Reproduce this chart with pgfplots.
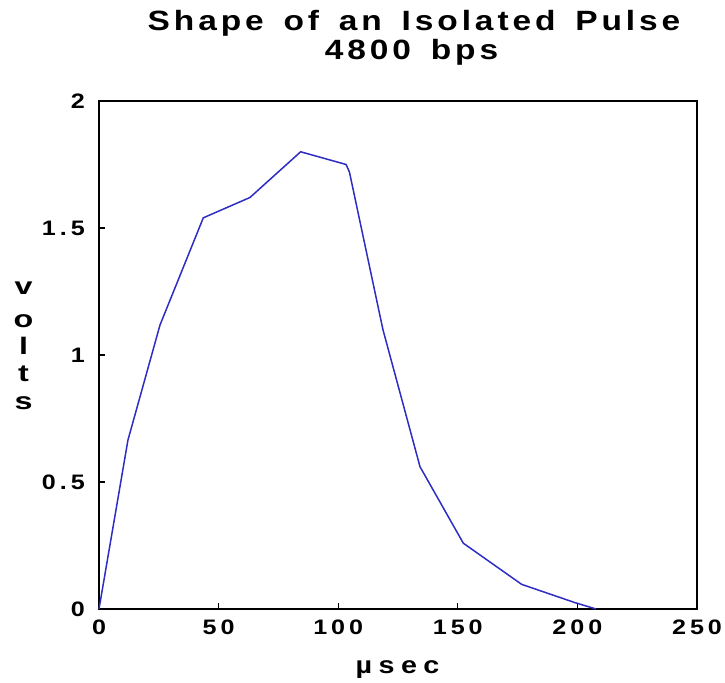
\documentclass[border=0pt]{standalone}
\usepackage{fontspec}
\setmainfont{Liberation Sans}
\newfontfamily\titlefont[FakeStretch=1.2, LetterSpace=14, WordSpace=1.5]{Liberation Sans}
\newfontfamily\widefont[FakeStretch=1.2, LetterSpace=19]{Liberation Sans}
\newfontfamily\labelfont[FakeStretch=1.2, LetterSpace=27]{Liberation Sans}
\newfontfamily\volfont[FakeStretch=1.35]{Liberation Sans}
\usepackage{pgfplots}
\pgfplotsset{compat=1.18}
\definecolor{pulse}{RGB}{45,45,195}
\begin{document}
\begin{tikzpicture}[x=1bp,y=1bp]
\useasboundingbox (-99,-74) rectangle (626,609);
\begin{axis}[
  at={(0,0)}, anchor=south west,
  scale only axis, width=598bp, height=508bp,
  xmin=0, xmax=250, ymin=0, ymax=2,
  xtick={0,50,100,150,200,250},
  ytick={0,0.5,1,1.5,2},
  yticklabels={0,0.5,1,1.5,2},
  tick pos=left, tick align=inside,
  major tick length=6bp,
  axis line style={line width=1.4bp},
  major tick style={line width=1.2bp, black},
  ticklabel style={font=\widefont\fontsize{21}{24}\selectfont\bfseries, inner sep=0pt},
  xticklabel style={anchor=north, yshift=-11bp},
  yticklabel style={anchor=east, xshift=-14bp},
  /pgf/number format/assume math mode=true,
  clip=false,
]
\addplot[pulse, line width=1.5bp] coordinates {
(0,0) (12.1,0.665) (25.5,1.118) (43.6,1.54) (63.1,1.62) (84.3,1.80)
(103.3,1.75) (104.7,1.72) (118.7,1.10) (134.2,0.56) (152.3,0.259)
(176.7,0.097) (199,0.025) (207.8,0)
};
\end{axis}
\node[font=\titlefont\fontsize{28}{32}\selectfont\bfseries, anchor=base, inner sep=0pt] at (315,578.5) {Shape of an Isolated Pulse};
\node[font=\titlefont\fontsize{28}{32}\selectfont\bfseries, anchor=base, inner sep=0pt] at (312.5,549) {4800 bps};
\node[font=\labelfont\fontsize{24}{28}\selectfont\bfseries, anchor=base, inner sep=0pt] at (298.5,-64) {µsec};
\begin{scope}[every node/.style={font=\volfont\fontsize{24}{28}\selectfont\bfseries, anchor=base, inner sep=0pt}]
\node at (-75.5,314) {v};
\node at (-75.5,281) {o};
\node at (-75.5,254) {l};
\node at (-75.5,227) {t};
\node at (-75.5,199) {s};
\end{scope}
\end{tikzpicture}
\end{document}
